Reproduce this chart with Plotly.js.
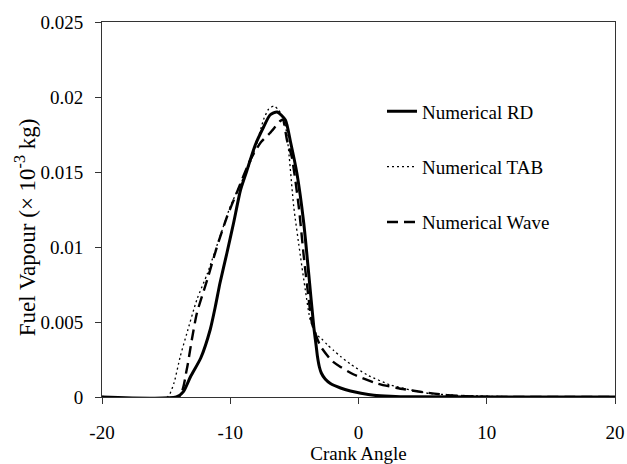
<!DOCTYPE html>
<html>
<head>
<meta charset="utf-8">
<script src="https://cdn.plot.ly/plotly-3.0.1.min.js"></script>
<style>html,body{margin:0;padding:0;background:#fff;}</style>
</head>
<body>
<div id="chart" style="width:627px;height:464px;"></div>
<script>
// Numerical RD (solid)
const rdX = [-20, -14.2, -13.65, -13.1, -12.3, -11.56, -11.17, -10.8, -10.26, -9.74, -9.2, -8.7, -8.05, -7.4, -6.9, -6.35, -5.7, -5.3, -4.8, -4.27, -3.88, -3.49, -3.3, -3.2, -3.05, -2.9, -2.6, -2.19, -1.4, -0.63, 0.2, 1.2, 2.5, 4, 20];
const rdY = [0, 0, 0.00036, 0.00135, 0.0026, 0.0045, 0.0060, 0.0076, 0.0096, 0.0116, 0.0138, 0.0151, 0.0168, 0.0180, 0.0188, 0.0190, 0.01847, 0.0170, 0.0149, 0.0116, 0.0082, 0.0047, 0.0034, 0.0027, 0.0020, 0.0016, 0.0012, 0.0009, 0.0006, 0.0004, 0.00025, 0.00012, 0.00005, 0.00001, 0];
// Numerical TAB (dotted)
const tabX = [-20, -14.9, -14.4, -13.9, -13.4, -12.6, -11.8, -10.8, -10.0, -9.2, -8.5, -8.0, -7.4, -7.0, -6.6, -6.2, -5.8, -5.6, -5.4, -5.05, -4.53, -4.14, -3.75, -3.2, -2.9, -2.45, -1.93, -1.4, -0.63, 0.68, 2.5, 4.06, 5.5, 8, 12, 20];
const tabY = [0, 0, 0.0009, 0.0027, 0.0042, 0.0065, 0.0082, 0.0107, 0.0127, 0.0142, 0.0155, 0.0167, 0.0185, 0.0192, 0.0194, 0.0191, 0.0184, 0.0176, 0.0160, 0.0127, 0.0094, 0.0071, 0.0051, 0.0041, 0.0039, 0.0035, 0.0031, 0.0027, 0.0022, 0.00147, 0.0008, 0.00047, 0.00024, 0.0001, 0.00002, 0];
// Numerical Wave (dashed)
const waveX = [-20, -14.0, -13.4, -13.0, -12.6, -11.8, -11.04, -10.26, -9.5, -8.44, -7.6, -6.9, -6.1, -5.9, -5.57, -5.2, -4.66, -4.27, -3.88, -3.62, -2.97, -2.06, -1.4, -0.37, 1.46, 3.0, 4.8, 7, 9.5, 20];
const waveY = [0, 0, 0.0018, 0.0038, 0.0056, 0.0078, 0.0100, 0.0120, 0.0136, 0.0158, 0.0170, 0.0176, 0.0184, 0.0185, 0.0171, 0.0160, 0.0127, 0.0094, 0.0065, 0.0049, 0.0034, 0.0024, 0.0020, 0.0015, 0.0009, 0.0006, 0.00035, 0.00012, 0.00002, 0];

const seriesNames = ["Numerical RD", "Numerical TAB", "Numerical Wave"];
const xTicks = [-20, -10, 0, 10, 20];
const yTicks = [0, 0.005, 0.01, 0.015, 0.02, 0.025];
const yTickText = ["0", "0.005", "0.01", "0.015", "0.02", "0.025"];

const FONT = "Liberation Serif, Times New Roman, serif";

const traces = [
  {x: waveX, y: waveY, name: seriesNames[2], legendgroup: "c", legendrank: 3, mode: "lines",
   line: {color: "#000", width: 2.4, dash: "11px,6px", shape: "spline", smoothing: 0.6}},
  {x: tabX, y: tabY, name: seriesNames[1], legendgroup: "b", legendrank: 2, mode: "lines",
   line: {color: "#000", width: 1.3, dash: "2px,3px", shape: "spline", smoothing: 0.6}},
  {x: rdX, y: rdY, name: seriesNames[0], legendgroup: "a", legendrank: 1, mode: "lines",
   line: {color: "#000", width: 3, shape: "spline", smoothing: 0.6}}
];

const layout = {
  width: 627, height: 464,
  margin: {l: 102, r: 12, t: 22, b: 67, pad: 0},
  paper_bgcolor: "#fff", plot_bgcolor: "#fff",
  font: {family: FONT, size: 19, color: "#000"},
  showlegend: true,
  legend: {x: 0.5458, y: 0.812, xanchor: "left", yanchor: "top",
           traceorder: "grouped", tracegroupgap: 27.6, bgcolor: "rgba(0,0,0,0)",
           borderwidth: 0, font: {family: FONT, size: 19, color: "#000"}},
  xaxis: {range: [-20, 20], tickvals: xTicks, ticktext: xTicks.map(String),
          showgrid: false, zeroline: false, showline: true, linecolor: "#333", linewidth: 1,
          mirror: true, ticks: "outside", ticklen: 6, tickcolor: "#333", tickwidth: 1,
          ticklabelstandoff: 12,
          title: {text: "Crank Angle", font: {family: FONT, size: 19}, standoff: 2}},
  yaxis: {range: [0, 0.025], tickvals: yTicks, ticktext: yTickText,
          showgrid: false, zeroline: false, showline: true, linecolor: "#333", linewidth: 1,
          mirror: true, ticks: "outside", ticklen: 6, tickcolor: "#333", tickwidth: 1,
          ticklabelstandoff: 8},
  annotations: [{
    text: "Fuel Vapour (× 10<sup>-3</sup> kg)", xref: "paper", yref: "paper",
    x: -0.150, y: 0.453, xanchor: "center", yanchor: "middle", textangle: -90,
    showarrow: false, font: {family: FONT, size: 23, color: "#000"}
  }]
};

Plotly.newPlot("chart", traces, layout, {displayModeBar: false, staticPlot: true});
</script>
</body>
</html>
